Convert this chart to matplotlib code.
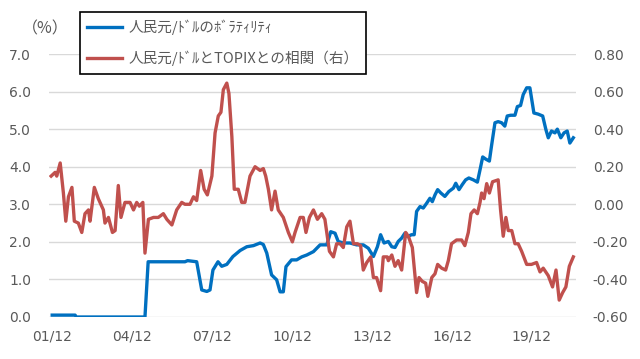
import matplotlib
matplotlib.use("Agg")
import matplotlib.pyplot as plt

plt.rcParams['font.family'] = ['Noto Sans CJK JP', 'DejaVu Sans']

# ---- data ----
# RMB/USD volatility (%), left axis
vol_t = [2001.92, 2002.78, 2002.82, 2005.40, 2005.52, 2006.90, 2007.00, 2007.34, 2007.53, 2007.72,
         2007.84, 2007.95, 2008.14, 2008.28, 2008.47, 2008.70, 2008.97, 2009.22, 2009.47, 2009.72,
         2009.84, 2009.97, 2010.15, 2010.34, 2010.47, 2010.59, 2010.69, 2010.90, 2011.09, 2011.28,
         2011.47, 2011.72, 2011.97, 2012.22, 2012.37, 2012.53, 2012.65, 2012.84, 2013.09, 2013.34,
         2013.59, 2013.78, 2013.97, 2014.12, 2014.24, 2014.37, 2014.53, 2014.66, 2014.78, 2014.90,
         2015.03, 2015.15, 2015.25, 2015.40, 2015.50, 2015.59, 2015.72, 2015.84, 2015.97, 2016.09,
         2016.18, 2016.28, 2016.38, 2016.50, 2016.65, 2016.80, 2016.97, 2017.06, 2017.18, 2017.30,
         2017.43, 2017.55, 2017.72, 2017.87, 2017.97, 2018.07, 2018.19, 2018.32, 2018.40, 2018.53,
         2018.65, 2018.78, 2018.90, 2018.99, 2019.12, 2019.28, 2019.37, 2019.49, 2019.59, 2019.72,
         2019.84, 2019.99, 2020.15, 2020.32, 2020.44, 2020.53, 2020.65, 2020.78, 2020.87, 2021.00,
         2021.12, 2021.24, 2021.34, 2021.47]
vol = [0.05, 0.05, 0.0, 0.0, 1.47, 1.47, 1.50, 1.47, 0.72, 0.68,
       0.72, 1.25, 1.47, 1.35, 1.40, 1.61, 1.77, 1.87, 1.90, 1.97,
       1.93, 1.70, 1.12, 0.99, 0.67, 0.67, 1.34, 1.52, 1.52, 1.60,
       1.65, 1.74, 1.92, 1.92, 2.27, 2.23, 2.01, 1.97, 1.97, 1.92,
       1.92, 1.83, 1.61, 1.87, 2.19, 1.97, 2.01, 1.87, 1.85, 2.01,
       2.10, 2.23, 2.14, 2.19, 2.19, 2.81, 2.94, 2.90, 3.03, 3.16,
       3.07, 3.25, 3.39, 3.30, 3.21, 3.34, 3.43, 3.56, 3.39, 3.52,
       3.65, 3.70, 3.65, 3.59, 3.92, 4.26, 4.20, 4.15, 4.55, 5.17,
       5.20, 5.17, 5.08, 5.35, 5.37, 5.37, 5.60, 5.63, 5.92, 6.10,
       6.10, 5.43, 5.40, 5.35, 4.99, 4.77, 4.95, 4.90, 5.00, 4.77,
       4.90, 4.95, 4.63, 4.77]

# RMB/USD vs TOPIX correlation, right axis
cor_t = [2001.88, 2002.03, 2002.09, 2002.22, 2002.34, 2002.43, 2002.53, 2002.66, 2002.75, 2002.90,
         2003.03, 2003.15, 2003.28, 2003.34, 2003.50, 2003.65, 2003.84, 2003.90, 2004.03, 2004.18,
         2004.28, 2004.40, 2004.50, 2004.65, 2004.84, 2004.97, 2005.09, 2005.19, 2005.32, 2005.40,
         2005.53, 2005.72, 2005.90, 2006.09, 2006.22, 2006.41, 2006.59, 2006.78, 2006.90, 2007.09,
         2007.22, 2007.34, 2007.49, 2007.62, 2007.74, 2007.91, 2008.03, 2008.15, 2008.25, 2008.34,
         2008.47, 2008.55, 2008.66, 2008.75, 2008.90, 2009.03, 2009.15, 2009.34, 2009.53, 2009.72,
         2009.84, 2009.93, 2010.03, 2010.15, 2010.28, 2010.40, 2010.59, 2010.78, 2010.93, 2011.03,
         2011.22, 2011.34, 2011.44, 2011.57, 2011.72, 2011.87, 2012.03, 2012.15, 2012.32, 2012.47,
         2012.59, 2012.72, 2012.84, 2012.97, 2013.09, 2013.22, 2013.37, 2013.49, 2013.59, 2013.72,
         2013.87, 2013.97, 2014.09, 2014.24, 2014.34, 2014.49, 2014.53, 2014.66, 2014.78, 2014.90,
         2015.03, 2015.18, 2015.28, 2015.43, 2015.59, 2015.68, 2015.80, 2015.93, 2016.01, 2016.16,
         2016.28, 2016.38, 2016.53, 2016.68, 2016.78, 2016.90, 2017.09, 2017.28, 2017.40, 2017.53,
         2017.63, 2017.75, 2017.87, 2017.97, 2018.03, 2018.12, 2018.22, 2018.32, 2018.44, 2018.65,
         2018.74, 2018.84, 2018.94, 2019.03, 2019.16, 2019.28, 2019.40, 2019.53, 2019.72, 2019.90,
         2020.09, 2020.22, 2020.34, 2020.53, 2020.69, 2020.82, 2020.94, 2021.07, 2021.19, 2021.32,
         2021.47]
cor = [0.15, 0.17, 0.15, 0.22, 0.06, -0.09, 0.04, 0.09, -0.09, -0.10,
       -0.15, -0.05, -0.03, -0.09, 0.09, 0.03, -0.03, -0.10, -0.07, -0.15,
       -0.14, 0.10, -0.07, 0.01, 0.01, -0.03, 0.01, -0.01, 0.01, -0.26,
       -0.08, -0.07, -0.07, -0.05, -0.08, -0.11, -0.03, 0.01, 0.00, 0.00,
       0.04, 0.02, 0.18, 0.08, 0.05, 0.15, 0.38, 0.47, 0.49, 0.61,
       0.645, 0.59, 0.36, 0.08, 0.08, 0.01, 0.01, 0.15, 0.20, 0.18,
       0.19, 0.15, 0.08, -0.03, 0.07, -0.03, -0.07, -0.15, -0.20, -0.15,
       -0.07, -0.07, -0.15, -0.07, -0.03, -0.08, -0.05, -0.08, -0.25, -0.28,
       -0.21, -0.21, -0.23, -0.12, -0.09, -0.21, -0.21, -0.22, -0.35, -0.31,
       -0.28, -0.39, -0.39, -0.46, -0.28, -0.28, -0.30, -0.27, -0.33, -0.30,
       -0.35, -0.15, -0.17, -0.23, -0.47, -0.39, -0.41, -0.42, -0.49, -0.39,
       -0.37, -0.32, -0.34, -0.35, -0.30, -0.21, -0.19, -0.19, -0.22, -0.15,
       -0.05, -0.03, -0.05, 0.01, 0.06, 0.03, 0.11, 0.06, 0.12, 0.13,
       -0.03, -0.17, -0.07, -0.14, -0.14, -0.21, -0.21, -0.25, -0.32, -0.32,
       -0.31, -0.36, -0.34, -0.38, -0.44, -0.35, -0.51, -0.47, -0.44, -0.33,
       -0.28]

xtick_pos = [2001.917, 2004.917, 2007.917, 2010.917, 2013.917, 2016.917, 2019.917]
xtick_lab = ['01/12', '04/12', '07/12', '10/12', '13/12', '16/12', '19/12']
left_ticks = [0, 1, 2, 3, 4, 5, 6, 7]
right_ticks = [-0.6, -0.4, -0.2, 0.0, 0.2, 0.4, 0.6, 0.8]

BLUE = '#0070C0'
RED = '#C0504D'
GRAY = '#595959'

fig = plt.figure(figsize=(6.4, 3.59), dpi=100)
ax = fig.add_axes([49/640, 1 - 317/359, 527/640, 263/359])
ax2 = ax.twinx()

l1, = ax.plot(vol_t, vol, color=BLUE, lw=2.4, solid_joinstyle='round')
l2, = ax2.plot(cor_t, cor, color=RED, lw=2.4, solid_joinstyle='round')

ax.set_xlim(2001.80, 2021.57)
ax.set_ylim(0, 7)
ax2.set_ylim(-0.6, 0.8)

ax.set_yticks(left_ticks)
ax.set_yticklabels([f'{v:.1f}' for v in left_ticks])
ax2.set_yticks(right_ticks)
ax2.set_yticklabels([f'{v:.2f}' for v in right_ticks])
ax.set_xticks(xtick_pos)
ax.set_xticklabels(xtick_lab)

ax.grid(axis='y', color='#d9d9d9', lw=1)
ax.set_axisbelow(True)
for a in (ax, ax2):
    for s in a.spines.values():
        s.set_visible(False)
ax.tick_params(axis='y', length=0, pad=13, labelsize=10, labelcolor=GRAY)
ax.tick_params(axis='x', length=0, pad=9, labelsize=10, labelcolor=GRAY)
ax2.tick_params(axis='y', length=0, pad=12, labelsize=10, labelcolor=GRAY)
for t in ax.get_xticklabels() + ax.get_yticklabels() + ax2.get_yticklabels():
    t.set_family('DejaVu Sans')

fig.text(45/640, 1 - 29/359, '（%）', ha='center', va='center', fontsize=11.5, color=GRAY)

leg = fig.legend([l1, l2], ['人民元/ﾄﾞﾙのﾎﾞﾗﾃｨﾘﾃｨ', '人民元/ﾄﾞﾙとTOPIXとの相関（右）'],
                 loc='upper left', bbox_to_anchor=(80/640, 1 - 12/359),
                 bbox_transform=fig.transFigure, borderaxespad=0, fontsize=10.5,
                 handlelength=2.4, labelspacing=1.1, handletextpad=0.4,
                 borderpad=0.5, fancybox=False, framealpha=1)
leg.get_frame().set_edgecolor('black')
leg.get_frame().set_linewidth(1.2)
for t in leg.get_texts():
    t.set_color(GRAY)

fig.savefig('out.png', dpi=100)
